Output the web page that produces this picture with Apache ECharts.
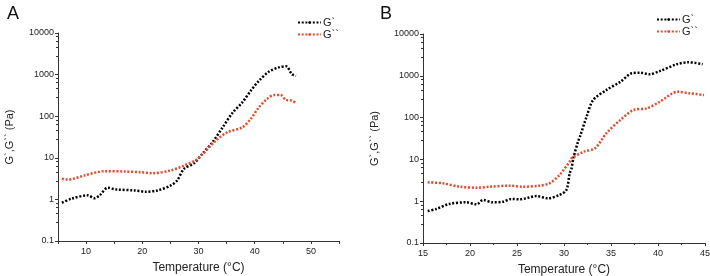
<!DOCTYPE html>
<html>
<head>
<meta charset="utf-8">
<script src="https://cdn.jsdelivr.net/npm/echarts@6/dist/echarts.min.js"></script>
<style>
  html, body { margin: 0; padding: 0; background: #fff; }
  #main { width: 710px; height: 276px; }
</style>
</head>
<body>
<div id="main"></div>
<script>
// panel A
const aTempG1 = [5.7, 7.4, 10.3, 11.5, 12.4, 13.85, 15.3, 18.6, 20.6, 22.7, 25.05, 26.2, 27.4, 29.2, 30.7, 32.5, 34.3, 36.1, 37.8, 39.3, 40.75, 42.5, 44.3, 45.6, 46.6, 47.35];
const aG1 = [0.83, 1.04, 1.25, 1.07, 1.25, 1.9, 1.74, 1.64, 1.53, 1.64, 2.16, 2.86, 5.4, 7.4, 12.5, 23.8, 54, 123, 215, 410, 710, 1170, 1490, 1580, 1030, 935];
const aTempG2 = [5.7, 6.8, 9.7, 13.3, 16.8, 19.75, 21.8, 25.05, 27.4, 29.8, 33.1, 35.1, 37.8, 39.3, 40.75, 42.2, 43.4, 44.6, 45.5, 46.6, 47.4];
const aG2 = [3.14, 3.0, 3.76, 4.77, 4.69, 4.5, 4.27, 4.96, 6.5, 9.4, 26, 41, 54, 86, 164, 260, 322, 322, 250, 237, 208];

// panel B
const bTempG1 = [15.5, 16.4, 17.8, 19.6, 20.7, 21.4, 22.4, 23.5, 24.4, 25.3, 27.1, 28.3, 29.5, 30.25, 30.6, 30.8, 31, 31.5, 31.7, 32.4, 33.1, 34.5, 36, 37.2, 38.1, 39.1, 40.2, 42, 43.2, 44.75];
const bG1 = [0.58, 0.65, 0.86, 0.94, 0.84, 1.07, 0.94, 0.97, 1.13, 1.11, 1.33, 1.17, 1.41, 1.85, 4.6, 6.1, 10.8, 27, 35, 105, 262, 455, 720, 1150, 1190, 1090, 1300, 1890, 2110, 1900];
const bTempG2 = [15.5, 17.1, 18.9, 20.85, 22.1, 24.2, 25.6, 27.4, 28.45, 29.5, 30.6, 30.8, 32.1, 33.3, 34.5, 36, 37.4, 38.8, 40.2, 42.1, 43.4, 44.9];
const bG2 = [2.83, 2.68, 2.22, 2.1, 2.22, 2.35, 2.22, 2.35, 2.68, 4.2, 8.8, 10.6, 15.3, 18.5, 42, 88, 152, 166, 240, 415, 380, 347];

const seriesNames = ["G`", "G``"];
const FONT = "Liberation Sans";
const AXIS = "#333";

const zip = (xs, ys) => xs.map((x, i) => [x, ys[i]]);

function dotted(name, color, data, idx) {
  return {
    name,
    type: "line",
    xAxisIndex: idx,
    yAxisIndex: idx,
    data,
    symbol: "none",
    smooth: 0.3,
    color,
    lineStyle: { color, width: 2.5, type: [2, 1.7], cap: "butt" }
  };
}

function xAxis(idx, min, max, interval, every) {
  return {
    type: "value",
    gridIndex: idx,
    min, max, interval,
    name: "Temperature (°C)",
    nameLocation: "middle",
    nameGap: 21,
    nameTextStyle: { fontFamily: FONT, fontSize: 12, color: "#222" },
    axisLine: { lineStyle: { color: AXIS } },
    axisTick: { length: 3, lineStyle: { color: AXIS } },
    minorTick: { show: idx === 1, splitNumber: 2, length: 2, lineStyle: { color: AXIS } },
    axisLabel: {
      fontFamily: FONT, fontSize: 9, color: "#222", margin: 6,
      formatter: v => (v % every === 0 ? String(v) : "")
    },
    splitLine: { show: false }
  };
}

function yAxis(idx) {
  return {
    type: "log",
    logBase: 10,
    gridIndex: idx,
    min: 0.1,
    max: 10000,
    name: "G`,G`` (Pa)",
    nameLocation: "middle",
    nameGap: 43,
    nameTextStyle: { fontFamily: FONT, fontSize: 11, color: "#222" },
    axisLine: { show: true, lineStyle: { color: AXIS } },
    axisTick: { show: true, length: 3, lineStyle: { color: AXIS } },
    minorTick: { show: true, splitNumber: 5, length: 2, lineStyle: { color: AXIS } },
    axisLabel: {
      fontFamily: FONT, fontSize: 9, color: "#222", margin: 4,
      formatter: v => String(v)
    },
    splitLine: { show: false }
  };
}

function legend(left, top) {
  return {
    left, top,
    orient: "vertical",
    itemWidth: 23,
    itemHeight: 3,
    itemGap: 1,
    data: seriesNames,
    textStyle: { fontFamily: FONT, fontSize: 11, color: "#222", padding: [0, 0, 0, -3] },
    selectedMode: false
  };
}

const options = {
  animation: false,
  title: [
    { text: "A", left: 2, top: 0, textStyle: { fontFamily: FONT, fontSize: 18, fontWeight: "normal", color: "#111" } },
    { text: "B", left: 375, top: 0, textStyle: { fontFamily: FONT, fontSize: 18, fontWeight: "normal", color: "#111" } }
  ],
  legend: [legend(292, 12), legend(651, 9)],
  grid: [
    { left: 58, right: 371, top: 33, bottom: 35, containLabel: false, outerBoundsMode: "none" },
    { left: 423, right: 5, top: 34, bottom: 33, containLabel: false, outerBoundsMode: "none" }
  ],
  xAxis: [xAxis(0, 5, 55, 5, 10), xAxis(1, 15, 45, 5, 5)],
  yAxis: [yAxis(0), yAxis(1)],
  series: [
    dotted(seriesNames[0], "#000", zip(aTempG1, aG1), 0),
    dotted(seriesNames[1], "#e34a2e", zip(aTempG2, aG2), 0),
    dotted(seriesNames[0], "#000", zip(bTempG1, bG1), 1),
    dotted(seriesNames[1], "#e34a2e", zip(bTempG2, bG2), 1)
  ]
};

const myChart = echarts.init(document.getElementById("main"));
myChart.setOption(options);
</script>
</body>
</html>
